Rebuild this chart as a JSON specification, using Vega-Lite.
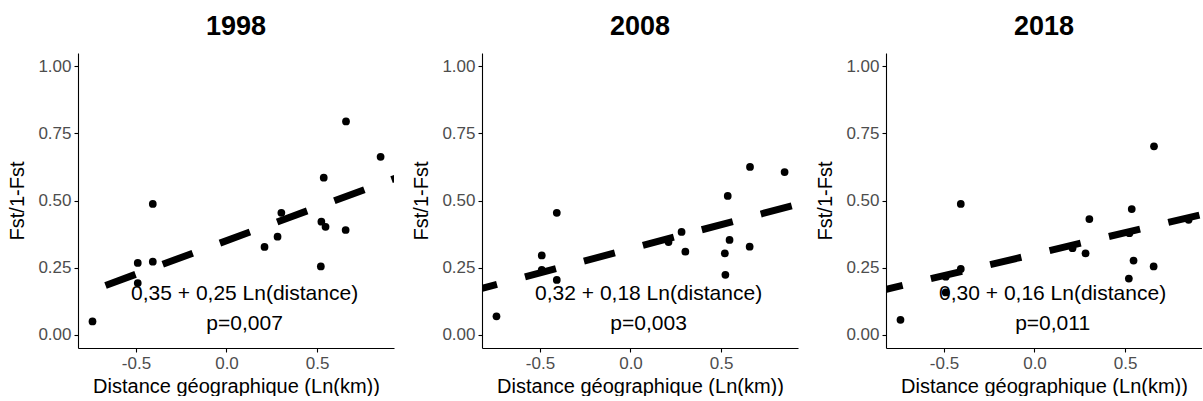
{
  "$schema": "https://vega.github.io/schema/vega-lite/v6.json",
  "padding": {"left": 7, "top": 13, "right": 0, "bottom": 0},
  "background": "white",
  "data": {"values": [
    {"year": "1998", "kind": "pt", "x": -0.74, "y": 0.049},
    {"year": "1998", "kind": "pt", "x": -0.49, "y": 0.267},
    {"year": "1998", "kind": "pt", "x": -0.49, "y": 0.192},
    {"year": "1998", "kind": "pt", "x": -0.407, "y": 0.487},
    {"year": "1998", "kind": "pt", "x": -0.407, "y": 0.272},
    {"year": "1998", "kind": "pt", "x": 0.21, "y": 0.327},
    {"year": "1998", "kind": "pt", "x": 0.282, "y": 0.365},
    {"year": "1998", "kind": "pt", "x": 0.303, "y": 0.454},
    {"year": "1998", "kind": "pt", "x": 0.521, "y": 0.254},
    {"year": "1998", "kind": "pt", "x": 0.524, "y": 0.421},
    {"year": "1998", "kind": "pt", "x": 0.537, "y": 0.585},
    {"year": "1998", "kind": "pt", "x": 0.547, "y": 0.402},
    {"year": "1998", "kind": "pt", "x": 0.658, "y": 0.39},
    {"year": "1998", "kind": "pt", "x": 0.66, "y": 0.795},
    {"year": "1998", "kind": "pt", "x": 0.851, "y": 0.663},
    {"year": "2008", "kind": "pt", "x": -0.74, "y": 0.068},
    {"year": "2008", "kind": "pt", "x": -0.49, "y": 0.241},
    {"year": "2008", "kind": "pt", "x": -0.49, "y": 0.295},
    {"year": "2008", "kind": "pt", "x": -0.407, "y": 0.204},
    {"year": "2008", "kind": "pt", "x": -0.407, "y": 0.454},
    {"year": "2008", "kind": "pt", "x": 0.21, "y": 0.345},
    {"year": "2008", "kind": "pt", "x": 0.282, "y": 0.383},
    {"year": "2008", "kind": "pt", "x": 0.303, "y": 0.309},
    {"year": "2008", "kind": "pt", "x": 0.521, "y": 0.303},
    {"year": "2008", "kind": "pt", "x": 0.524, "y": 0.223},
    {"year": "2008", "kind": "pt", "x": 0.537, "y": 0.517},
    {"year": "2008", "kind": "pt", "x": 0.547, "y": 0.353},
    {"year": "2008", "kind": "pt", "x": 0.658, "y": 0.328},
    {"year": "2008", "kind": "pt", "x": 0.66, "y": 0.625},
    {"year": "2008", "kind": "pt", "x": 0.851, "y": 0.606},
    {"year": "2018", "kind": "pt", "x": -0.74, "y": 0.055},
    {"year": "2018", "kind": "pt", "x": -0.49, "y": 0.216},
    {"year": "2018", "kind": "pt", "x": -0.49, "y": 0.157},
    {"year": "2018", "kind": "pt", "x": -0.407, "y": 0.487},
    {"year": "2018", "kind": "pt", "x": -0.407, "y": 0.245},
    {"year": "2018", "kind": "pt", "x": 0.21, "y": 0.322},
    {"year": "2018", "kind": "pt", "x": 0.282, "y": 0.303},
    {"year": "2018", "kind": "pt", "x": 0.303, "y": 0.431},
    {"year": "2018", "kind": "pt", "x": 0.521, "y": 0.209},
    {"year": "2018", "kind": "pt", "x": 0.524, "y": 0.378},
    {"year": "2018", "kind": "pt", "x": 0.537, "y": 0.468},
    {"year": "2018", "kind": "pt", "x": 0.547, "y": 0.276},
    {"year": "2018", "kind": "pt", "x": 0.658, "y": 0.254},
    {"year": "2018", "kind": "pt", "x": 0.66, "y": 0.702},
    {"year": "2018", "kind": "pt", "x": 0.851, "y": 0.428},
    {"year": "1998", "kind": "fit", "x": -0.668, "y": 0.183},
    {"year": "1998", "kind": "fit", "x": 0.95, "y": 0.5875},
    {"year": "2008", "kind": "fit", "x": -0.908, "y": 0.1566},
    {"year": "2008", "kind": "fit", "x": 0.95, "y": 0.491},
    {"year": "2018", "kind": "fit", "x": -0.9, "y": 0.156},
    {"year": "2018", "kind": "fit", "x": 0.95, "y": 0.452},
    {"year": "1998", "kind": "lab", "x": 0.1, "y": 0.15, "label": "0,35 + 0,25 Ln(distance)"},
    {"year": "1998", "kind": "lab", "x": 0.1, "y": 0.04, "label": "p=0,007"},
    {"year": "2008", "kind": "lab", "x": 0.1, "y": 0.15, "label": "0,32 + 0,18 Ln(distance)"},
    {"year": "2008", "kind": "lab", "x": 0.1, "y": 0.04, "label": "p=0,003"},
    {"year": "2018", "kind": "lab", "x": 0.1, "y": 0.15, "label": "0,30 + 0,16 Ln(distance)"},
    {"year": "2018", "kind": "lab", "x": 0.1, "y": 0.04, "label": "p=0,011"}
  ]},
  "facet": {
    "column": {
      "field": "year",
      "type": "nominal",
      "title": null,
      "header": {
        "labelFont": "Liberation Sans",
        "labelFontSize": 27,
        "labelFontWeight": "bold",
        "labelColor": "black",
        "labelPadding": 12,
        "labelOrient": "top"
      }
    }
  },
  "spacing": 88,
  "bounds": "flush",
  "resolve": {"axis": {"x": "independent", "y": "independent"}},
  "spec": {
    "width": 316,
    "height": 295,
    "encoding": {
      "x": {
        "field": "x",
        "type": "quantitative",
        "scale": {"domain": [-0.82, 0.925], "nice": false, "zero": false},
        "axis": {
          "title": "Distance géographique (Ln(km))",
          "values": [-0.5, 0, 0.5],
          "format": ".1f",
          "labelExpr": "replace(datum.label, '\u2212', '-')"
        }
      },
      "y": {
        "field": "y",
        "type": "quantitative",
        "scale": {"domain": [-0.05, 1.05], "nice": false, "zero": false},
        "axis": {
          "title": "Fst/1-Fst",
          "values": [0, 0.25, 0.5, 0.75, 1],
          "format": ".2f"
        }
      }
    },
    "layer": [
      {
        "transform": [{"filter": "datum.kind === 'pt'"}],
        "mark": {"type": "circle", "size": 60, "color": "black", "opacity": 1}
      },
      {
        "transform": [{"filter": "datum.kind === 'fit'"}],
        "mark": {"type": "line", "color": "black", "strokeWidth": 7, "strokeDash": [32, 29], "strokeCap": "butt", "clip": true}
      },
      {
        "transform": [{"filter": "datum.kind === 'lab'"}],
        "mark": {"type": "text", "font": "Liberation Sans", "fontSize": 21, "color": "black", "align": "center", "baseline": "middle"},
        "encoding": {"text": {"field": "label", "type": "nominal"}}
      }
    ]
  },
  "config": {
    "view": {"stroke": null},
    "axis": {
      "grid": false,
      "domainColor": "black",
      "domainWidth": 1.1,
      "tickColor": "black",
      "tickWidth": 1.1,
      "tickSize": 4,
      "labelColor": "#4D4D4D",
      "labelFont": "Liberation Sans",
      "labelFontSize": 17,
      "labelPadding": 3,
      "titleFont": "Liberation Sans",
      "titleFontSize": 20,
      "titleFontWeight": "normal",
      "titleColor": "black"
    },
    "axisY": {"titlePadding": 10},
    "axisX": {"titlePadding": 5}
  }
}
